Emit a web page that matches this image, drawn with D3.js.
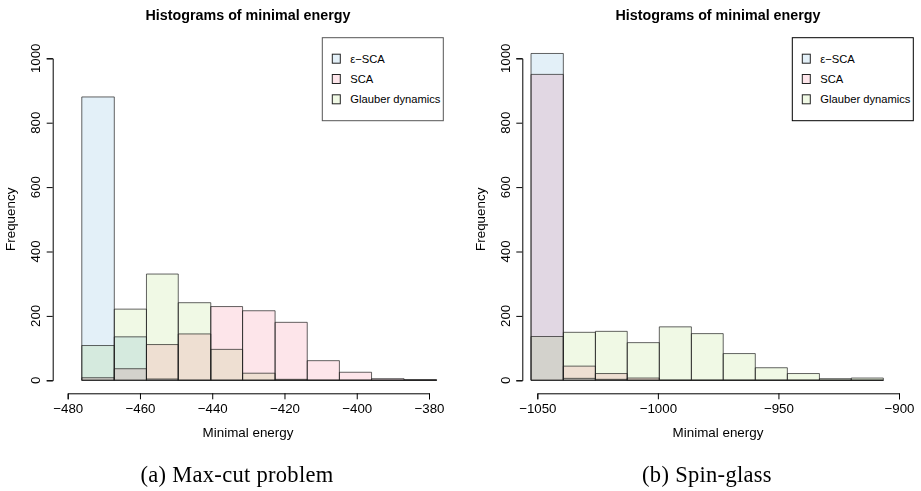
<!DOCTYPE html>
<html>
<head>
<meta charset="utf-8">
<script src="https://cdn.jsdelivr.net/npm/d3@7"></script>
<style>
  html, body { margin: 0; padding: 0; background: #fff; }
  svg { display: block; }
  text { font-family: "Liberation Sans", Arial, sans-serif; fill: #000; }
</style>
</head>
<body>
<svg id="chart" width="921" height="491"></svg>
<script>
// ---------- data ----------
const seriesNames = ["\u03b5\u2212SCA", "SCA", "Glauber dynamics"];

// Panel (a) Max-cut problem
const leftEdges = [-476.1, -467.1, -458.2, -449.4, -440.4, -431.6, -422.6, -413.7, -404.8, -395.9, -386.9, -377.9];
const leftEps = [880, 135, 4, 0, 0, 0, 0, 0, 0, 0, 0];
const leftSCA = [8, 36, 111, 144, 229, 216, 180, 61, 25, 5, 2];
const leftGlauber = [108, 221, 330, 241, 96, 22, 3, 0, 0, 0, 0];
const leftXTicks = [-480, -460, -440, -420, -400, -380];

// Panel (b) Spin-glass
const rightEdges = [-1052.6, -1039.2, -1025.9, -1012.7, -999.4, -986.1, -972.9, -959.6, -946.3, -933.0, -919.8, -906.5];
const rightEps = [1015, 6, 3, 0, 0, 0, 0, 0, 0, 0, 0];
const rightSCA = [950, 44, 21, 7, 0, 0, 0, 0, 0, 0, 0];
const rightGlauber = [136, 149, 152, 117, 166, 145, 83, 39, 21, 5, 7];
const rightXTicks = [-1050, -1000, -950, -900];

const yTicks = [0, 200, 400, 600, 800, 1000];

// ---------- styling ----------
const fills = ["#e3f0f8", "#fde5ea", "#f0f9e5"];
const fmt = v => String(v).replace("-", "\u2212");

const svg = d3.select("#chart");

function panel(cfg) {
  const g = svg.append("g");
  const x = d3.scaleLinear().domain(cfg.xDomain).range(cfg.xRange);
  const y = d3.scaleLinear().domain([0, 1000]).range([380.3, 58.3]);

  // bars
  const series = [cfg.eps, cfg.sca, cfg.glauber];
  series.forEach((vals, si) => {
    const bins = vals.map((v, i) => ({ x0: cfg.edges[i], x1: cfg.edges[i + 1], v }));
    const sg = g.append("g");
    sg.selectAll("path.fill").data(bins.filter(d => d.v > 0)).join("path")
      .attr("class", "fill")
      .attr("d", d => {
        const p = d3.path();
        p.rect(x(d.x0), y(d.v), x(d.x1) - x(d.x0), y(0) - y(d.v));
        return p.toString();
      })
      .attr("fill", fills[si])
      .style("mix-blend-mode", "multiply");
    sg.selectAll("path.edge").data(bins).join("path")
      .attr("class", "edge")
      .attr("d", d => {
        const p = d3.path();
        p.moveTo(x(d.x0), y(0));
        p.lineTo(x(d.x0), y(d.v));
        p.lineTo(x(d.x1), y(d.v));
        p.lineTo(x(d.x1), y(0));
        p.closePath();
        return p.toString();
      })
      .attr("fill", "none")
      .attr("stroke", "#222")
      .attr("stroke-opacity", 0.7)
      .attr("stroke-width", 1);
  });

  // x axis
  const xa = g.append("g").attr("transform", "translate(0,393.3)")
    .call(d3.axisBottom(x).tickValues(cfg.xTicks).tickFormat(fmt).tickSizeOuter(0).tickSize(6).tickPadding(4));
  xa.select(".domain").attr("stroke", "#000");
  xa.selectAll(".tick line").attr("stroke", "#000");
  xa.selectAll(".tick text").attr("font-size", "13.3px").attr("font-family", "Liberation Sans, Arial, sans-serif");

  // y axis
  const ya = g.append("g").attr("transform", `translate(${cfg.yAxisX},0)`)
    .call(d3.axisLeft(y).tickValues(yTicks).tickSizeOuter(0).tickSize(6).tickFormat(""));
  ya.select(".domain").attr("stroke", "#000");
  ya.selectAll(".tick line").attr("stroke", "#000");
  g.selectAll("text.ylab").data(yTicks).join("text")
    .attr("class", "ylab")
    .attr("transform", d => `translate(${cfg.yAxisX - 12.5},${y(d)}) rotate(-90)`)
    .attr("text-anchor", "middle")
    .attr("font-size", "13.3px")
    .text(d => d);

  // titles
  g.append("text").attr("x", cfg.center).attr("y", 19.5)
    .attr("text-anchor", "middle").attr("font-weight", "bold").attr("font-size", "14.3px")
    .text("Histograms of minimal energy");
  g.append("text").attr("x", cfg.center).attr("y", 436.7)
    .attr("text-anchor", "middle").attr("font-size", "13.4px")
    .text("Minimal energy");
  g.append("text")
    .attr("transform", `translate(${cfg.yAxisX - 37.5},${(y(0) + y(1000)) / 2}) rotate(-90)`)
    .attr("text-anchor", "middle").attr("font-size", "13.4px")
    .text("Frequency");

  // caption
  g.append("text").attr("x", cfg.capX).attr("y", 482)
    .attr("text-anchor", "middle")
    .style("font-family", "'Liberation Serif', 'DejaVu Serif', serif")
    .attr("font-size", "22.5px")
    .attr("letter-spacing", "0.3px")
    .text(cfg.caption);

  // legend
  const lg = g.append("g").attr("transform", `translate(${cfg.legX},37.7)`);
  lg.append("rect").attr("x", 0).attr("y", 0).attr("width", 121).attr("height", 83)
    .attr("fill", "#fff").attr("stroke", cfg.legStroke).attr("stroke-width", 1);
  seriesNames.forEach((name, i) => {
    const cy = 21 + i * 20.3;
    lg.append("rect").attr("x", 10).attr("y", cy - 4.5).attr("width", 8).attr("height", 9)
      .attr("fill", fills[i]).attr("stroke", "#222").attr("stroke-width", 1);
    lg.append("text").attr("x", 28).attr("y", cy + 4).attr("font-size", "11.2px").text(name);
  });
}

panel({
  edges: leftEdges, eps: leftEps, sca: leftSCA, glauber: leftGlauber,
  xTicks: leftXTicks, xDomain: [-480, -380], xRange: [67.7, 429],
  yAxisX: 52.7, center: 248, capX: 237, caption: "(a) Max-cut problem",
  legX: 322.3, legStroke: "#555"
});
panel({
  edges: rightEdges, eps: rightEps, sca: rightSCA, glauber: rightGlauber,
  xTicks: rightXTicks, xDomain: [-1050, -900], xRange: [537.3, 899],
  yAxisX: 522.3, center: 718, capX: 707, caption: "(b) Spin-glass",
  legX: 792.3, legStroke: "#000"
});
</script>
</body>
</html>
